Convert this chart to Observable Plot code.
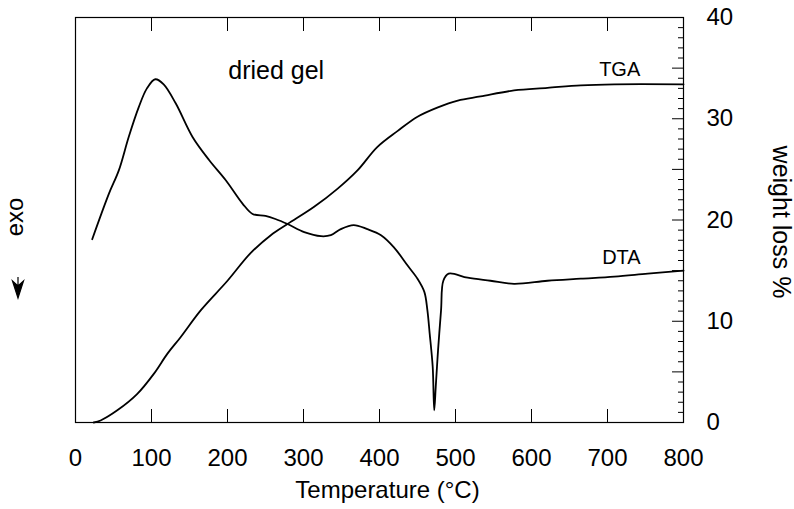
<!DOCTYPE html>
<html>
<head>
<meta charset="utf-8">
<script src="https://cdn.jsdelivr.net/npm/d3@7"></script>
<script src="https://cdn.jsdelivr.net/npm/@observablehq/plot@0.6"></script>
<style>
  html, body { margin: 0; padding: 0; background: #fff; }
  #chart { width: 794px; height: 509px; }
</style>
</head>
<body>
<div id="chart"></div>
<script>
// ---- data ----
const tgaTemp = [24, 33, 55, 81, 103, 121, 138, 165, 200, 230, 257, 279, 314, 345, 371, 397, 424, 450, 476, 503, 533, 577, 621, 665, 709, 800];
const tgaLoss = [0, 0.2, 1.2, 2.8, 4.8, 6.8, 8.4, 11.1, 14.0, 16.7, 18.5, 19.6, 21.3, 23.1, 24.9, 27.2, 28.8, 30.2, 31.1, 31.8, 32.2, 32.8, 33.05, 33.3, 33.4, 33.4];

const dtaTemp = [22, 44, 57, 70, 83, 94, 105, 116, 132, 154, 176, 198, 220, 233, 250, 263, 279, 301, 323, 336, 349, 366, 384, 402, 419, 437, 450, 459, 463, 466, 470, 472, 474, 477, 481, 484, 491, 516, 546, 577, 621, 665, 709, 753, 800];
const dtaSignal = [18.1, 22.6, 24.9, 28.2, 31.1, 33.0, 33.9, 33.4, 31.5, 28.2, 25.9, 23.9, 21.6, 20.6, 20.4, 20.1, 19.6, 18.8, 18.4, 18.5, 19.1, 19.5, 19.1, 18.5, 17.3, 15.5, 14.2, 12.9, 11.1, 8.8, 5.5, 1.2, 3.5, 7.1, 11.1, 14.0, 14.7, 14.3, 14.0, 13.7, 14.0, 14.2, 14.4, 14.7, 15.0];

const xTickLabels = [0, 100, 200, 300, 400, 500, 600, 700, 800];
const xInnerTicks = [100, 200, 300, 400, 500, 600, 700];
const yTickLabels = [0, 10, 20, 30, 40];
const yMidTicks = [5, 10, 15, 20, 25, 30, 35];
const yMinorTicks = [1, 2, 3, 4, 6, 7, 8, 9, 11, 12, 13, 14, 16, 17, 18, 19, 21, 22, 23, 24, 26, 27, 28, 29, 31, 32, 33, 34, 36, 37, 38, 39];

const sampleLabel = ["dried gel"];
const sampleLabelPos = [{t: 201, v: 33.9}];
const curveLabels = ["TGA", "DTA"];
const curveLabelPos = [{t: 689, v: 34.2}, {t: 693, v: 15.7}];

const xTitle = "Temperature (°C)";
const yTitle = "weight loss %";
const leftTitle = "exo";

// ---- tables ----
const tga = tgaTemp.map((t, i) => ({t, v: tgaLoss[i]}));
const dta = dtaTemp.map((t, i) => ({t, v: dtaSignal[i]}));
const sampleAnn = sampleLabel.map((s, i) => ({s, ...sampleLabelPos[i]}));
const curveAnn = curveLabels.map((s, i) => ({s, ...curveLabelPos[i]}));

const FONT = "'Liberation Sans', Arial, Helvetica, sans-serif";

const plot = Plot.plot({
  width: 794,
  height: 509,
  marginLeft: 75,
  marginRight: 111,
  marginTop: 17,
  marginBottom: 87,
  style: {fontFamily: FONT, fontSize: "24px", color: "#000", background: "#fff", overflow: "visible"},
  x: {domain: [0, 800]},
  y: {domain: [0, 40]},
  marks: [
    Plot.frame({stroke: "#000", strokeWidth: 1.2}),
    Plot.axisX(xTickLabels, {anchor: "bottom", tickSize: 0, tickPadding: 26, fontSize: 24, label: null}),
    Plot.axisX(xInnerTicks, {anchor: "bottom", tickSize: -13, text: null, label: null}),
    Plot.axisX(xInnerTicks, {anchor: "top", tickSize: -13, text: null, label: null}),
    Plot.axisY(yTickLabels, {anchor: "right", tickSize: 0, tickPadding: 23, textAnchor: "start", fontSize: 24, label: null}),
    Plot.axisY(yMidTicks, {anchor: "right", tickSize: -12, text: null, label: null}),
    Plot.axisY(yMinorTicks, {anchor: "right", tickSize: -6, text: null, label: null}),
    Plot.line(tga, {x: "t", y: "v", curve: "catmull-rom", stroke: "#000", strokeWidth: 1.8}),
    Plot.line(dta, {x: "t", y: "v", curve: "catmull-rom", stroke: "#000", strokeWidth: 1.8}),
    Plot.text(sampleAnn, {x: "t", y: "v", text: "s", textAnchor: "start", lineAnchor: "bottom", fontSize: 25, fill: "#000"}),
    Plot.text(curveAnn, {x: "t", y: "v", text: "s", textAnchor: "start", lineAnchor: "bottom", fontSize: 20, fill: "#000"}),
    Plot.text([xTitle], {frameAnchor: "bottom", textAnchor: "middle", dx: 8, dy: 75, lineAnchor: "bottom", fontSize: 24, fill: "#000"}),
    Plot.text([yTitle], {frameAnchor: "right", textAnchor: "middle", dx: 97, dy: 2, rotate: 90, lineAnchor: "middle", fontSize: 25, fill: "#000"}),
    Plot.text([leftTitle], {frameAnchor: "left", textAnchor: "middle", dx: -60, dy: -3, rotate: -90, lineAnchor: "middle", fontSize: 24, fill: "#000"})
  ]
});

// "exo" direction arrow (decoration beside the left edge)
const svg = d3.select(plot);
const ax = 18, ay = 287;
svg.append("path")
  .attr("d", `M${ax},${ay - 10}V${ay}M${ax - 5.5},${ay - 6}L${ax},${ay + 11}L${ax + 5.5},${ay - 6}L${ax},${ay - 1}Z`)
  .attr("stroke", "#000").attr("stroke-width", 1.2).attr("fill", "#000").attr("stroke-linejoin", "miter");

document.getElementById("chart").appendChild(plot);
</script>
</body>
</html>
